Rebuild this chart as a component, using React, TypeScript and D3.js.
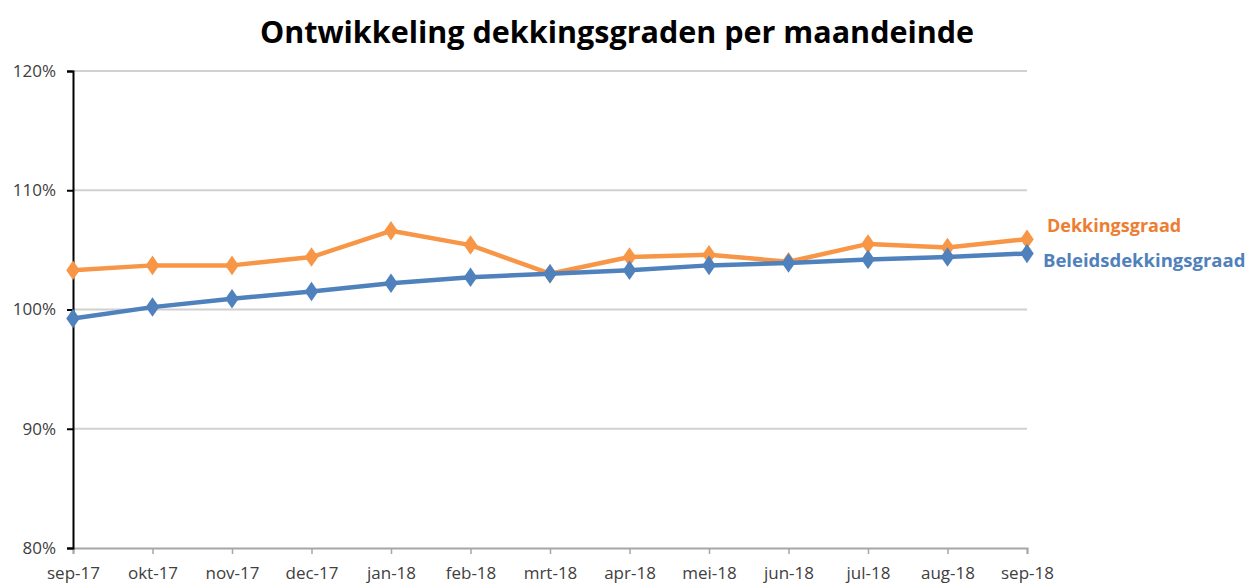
import React, { useEffect, useRef } from 'react';
import * as d3 from 'd3';

const months = ['sep-17', 'okt-17', 'nov-17', 'dec-17', 'jan-18', 'feb-18', 'mrt-18', 'apr-18', 'mei-18', 'jun-18', 'jul-18', 'aug-18', 'sep-18'];
const dekkingsgraad = [103.3, 103.7, 103.7, 104.4, 106.6, 105.4, 103.0, 104.4, 104.6, 104.0, 105.5, 105.2, 105.9];
const beleidsdekkingsgraad = [99.25, 100.2, 100.9, 101.5, 102.2, 102.7, 103.0, 103.3, 103.7, 103.9, 104.2, 104.4, 104.7];
const yTicks = [80, 90, 100, 110, 120];

const App: React.FC = () => {
  const ref = useRef<SVGSVGElement>(null);

  useEffect(() => {
    if (!ref.current) return;
    const svg = d3.select(ref.current);
    svg.selectAll('*').remove();

    const width = 1257;
    const height = 583;
    const margin = { top: 71, right: 230, bottom: 35, left: 73 };
    const innerWidth = width - margin.left - margin.right;
    const innerHeight = height - margin.top - margin.bottom;

    const g = svg.append('g').attr('transform', `translate(${margin.left},${margin.top})`);

    const x = d3.scalePoint<string>().domain(months).range([0, innerWidth]);
    const y = d3.scaleLinear().domain([80, 120]).range([innerHeight, 0]);

    // Title
    svg.append('text')
      .attr('x', 617)
      .attr('y', 43)
      .attr('text-anchor', 'middle')
      .style('font-family', 'Open Sans')
      .style('font-weight', 'bold')
      .style('font-size', '30.5px')
      .style('fill', '#000')
      .text('Ontwikkeling dekkingsgraden per maandeinde');

    // Gridlines
    g.selectAll('.grid')
      .data(yTicks.filter(t => t !== 80))
      .enter().append('line')
      .attr('x1', 0)
      .attr('x2', innerWidth)
      .attr('y1', d => y(d))
      .attr('y2', d => y(d))
      .style('stroke', '#d0d0d0')
      .style('stroke-width', 2);

    // X axis
    const xAxis = g.append('g')
      .attr('transform', `translate(0,${innerHeight})`)
      .call(d3.axisBottom(x).tickSize(6).tickPadding(13));
    xAxis.select('.domain').style('stroke', '#a6a6a6').style('stroke-width', 2);
    xAxis.selectAll('.tick line').style('stroke', '#a6a6a6').style('stroke-width', 1.5);
    xAxis.selectAll('text')
      .style('fill', '#404040')
      .style('font-family', 'Open Sans')
      .style('font-size', '17px');

    // Y axis
    const yAxis = g.append('g')
      .call(d3.axisLeft(y).tickValues(yTicks).tickSize(6).tickPadding(11).tickFormat(d => `${d}%`));
    yAxis.select('.domain').style('stroke', '#000').style('stroke-width', 2);
    yAxis.selectAll('.tick line').style('stroke', '#000').style('stroke-width', 2);
    yAxis.selectAll('text')
      .style('fill', '#404040')
      .style('font-family', 'Open Sans')
      .style('font-size', '17px');

    const series = [
      { name: 'Dekkingsgraad', values: dekkingsgraad, color: '#F79646', label: '#ED7D31', dy: -13, dx: 20, size: '18px' },
      { name: 'Beleidsdekkingsgraad', values: beleidsdekkingsgraad, color: '#4F81BD', label: '#4F81BD', dy: 7, dx: 16, size: '18.5px' }
    ];

    const line = d3.line<number>()
      .x((_, i) => x(months[i]) || 0)
      .y(d => y(d));

    const diamond = d3.symbol().type(d3.symbolDiamond).size(110);

    series.forEach(s => {
      g.append('path')
        .datum(s.values)
        .attr('d', line)
        .style('fill', 'none')
        .style('stroke', s.color)
        .style('stroke-width', 4.5)
        .style('stroke-linejoin', 'round');

      g.selectAll(null)
        .data(s.values)
        .enter().append('path')
        .attr('d', diamond)
        .attr('transform', (d, i) => `translate(${x(months[i])},${y(d)}) scale(1.2,1)`)
        .style('fill', s.color);

      const last = s.values[s.values.length - 1];
      g.append('text')
        .attr('x', innerWidth + s.dx)
        .attr('y', y(last) + s.dy)
        .attr('dy', '0.35em')
        .style('fill', s.label)
        .style('font-family', 'Open Sans')
        .style('font-weight', 'bold')
        .style('font-size', s.size)
        .text(s.name);
    });
  }, []);

  return (
    <svg ref={ref} width={1257} height={583} style={{ position: 'absolute', left: 0, top: 0, background: '#fff' }}></svg>
  );
};

export default App;
